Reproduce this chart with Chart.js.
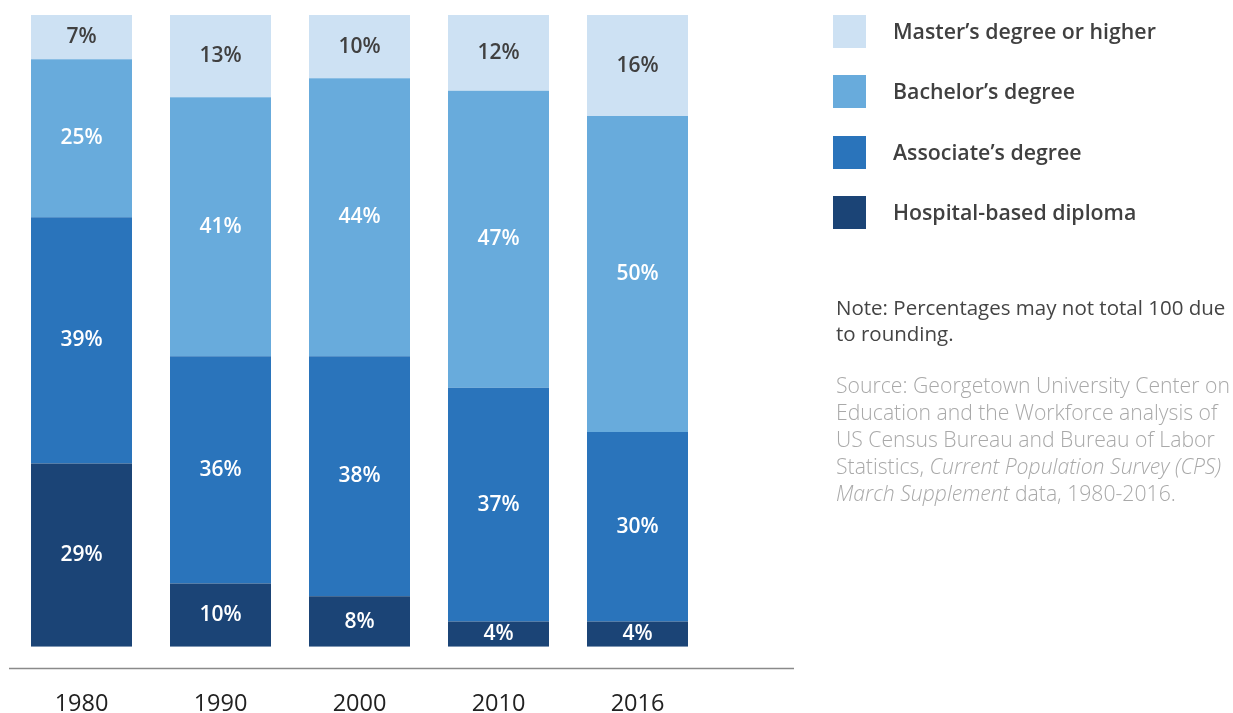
<!DOCTYPE html>
<html>
<head>
<meta charset="utf-8">
<script src="https://cdn.jsdelivr.net/npm/chart.js@4.4.0/dist/chart.umd.min.js"></script>
<style>
  html, body { margin: 0; padding: 0; background: #fff; }
  body { width: 1233px; height: 713px; position: relative; overflow: hidden; font-family: "Open Sans", sans-serif; }
  #c { position: absolute; left: 0; top: 0; }
  #legend { position: absolute; left: 833px; top: 15px; }
  .li { position: absolute; left: 0; height: 33px; width: 400px; }
  .sw { position: absolute; left: 0; top: 0; width: 33px; height: 33px; }
  .lt { position: absolute; left: 60px; top: -1px; line-height: 33px; font-size: 21.3px; font-weight: 600; color: #404040; white-space: nowrap; }
  #note { position: absolute; left: 836px; top: 294px; width: 420px; font-size: 20.5px; line-height: 26px; color: #444; white-space: nowrap; }
  #source { position: absolute; left: 836px; top: 371px; width: 420px; font-size: 21.2px; line-height: 27px; color: #a9a9a9; font-weight: 300; white-space: nowrap; }
</style>
</head>
<body>
<canvas id="c" width="1233" height="713"></canvas>
<div id="legend"></div>
<div id="note">Note: Percentages may not total 100 due<br>to rounding.</div>
<div id="source">Source: Georgetown University Center on<br>Education and the Workforce analysis of<br>US Census Bureau and Bureau of Labor<br>Statistics, <i>Current Population Survey (CPS)</i><br><i>March Supplement</i> data, 1980-2016.</div>
<script>
const categories = ["1980", "1990", "2000", "2010", "2016"];
const seriesNames = ["Hospital-based diploma", "Associate\u2019s degree", "Bachelor\u2019s degree", "Master\u2019s degree or higher"];
const hospital = [29, 10, 8, 4, 4];
const associate = [39, 36, 38, 37, 30];
const bachelor = [25, 41, 44, 47, 50];
const master = [7, 13, 10, 12, 16];
const seriesColors = ["#1b4476", "#2a74bb", "#68abdc", "#cde1f3"];
const labelColors = ["#ffffff", "#ffffff", "#ffffff", "#404040"];

const seriesValues = [hospital, associate, bachelor, master];

// HTML legend (top = master's)
const legend = document.getElementById('legend');
for (let i = seriesNames.length - 1, row = 0; i >= 0; i--, row++) {
  const li = document.createElement('div');
  li.className = 'li';
  li.style.top = (row * 60.3) + 'px';
  const sw = document.createElement('div');
  sw.className = 'sw';
  sw.style.background = seriesColors[i];
  const lt = document.createElement('div');
  lt.className = 'lt';
  lt.textContent = seriesNames[i];
  li.appendChild(sw); li.appendChild(lt);
  legend.appendChild(li);
}

const valueLabels = {
  id: 'valueLabels',
  afterDatasetsDraw(chart) {
    const ctx = chart.ctx;
    ctx.save();
    ctx.font = '600 21px "Open Sans"';
    ctx.textAlign = 'center';
    ctx.textBaseline = 'middle';
    chart.data.datasets.forEach((ds, di) => {
      const meta = chart.getDatasetMeta(di);
      meta.data.forEach((bar, i) => {
        const cy = (bar.y + bar.base) / 2;
        ctx.fillStyle = labelColors[di];
        ctx.fillText(ds.data[i] + '%', bar.x, cy);
      });
    });
    ctx.restore();
  }
};

const baseline = {
  id: 'baseline',
  afterDraw(chart) {
    const ctx = chart.ctx;
    const y = Math.round(chart.chartArea.bottom + 21) + 0.5;
    ctx.save();
    ctx.strokeStyle = '#8a8a8a';
    ctx.lineWidth = 1.5;
    ctx.beginPath();
    ctx.moveTo(9, y);
    ctx.lineTo(794, y);
    ctx.stroke();
    ctx.restore();
  }
};

new Chart(document.getElementById('c'), {
  type: 'bar',
  data: {
    labels: categories,
    datasets: seriesValues.map((vals, i) => ({
      label: seriesNames[i],
      data: vals,
      backgroundColor: seriesColors[i],
      borderWidth: 0,
      categoryPercentage: 101 / 139,
      barPercentage: 1
    }))
  },
  options: {
    responsive: false,
    animation: false,
    devicePixelRatio: 1,
    layout: { padding: { left: 12, right: 526, top: 15, bottom: -48 } },
    plugins: { legend: { display: false }, tooltip: { enabled: false } },
    scales: {
      x: {
        stacked: true,
        grid: { display: false, drawTicks: false },
        border: { display: false },
        ticks: { color: '#222', padding: 43, font: { family: 'Open Sans', size: 23.5 } }
      },
      y: {
        stacked: true,
        display: false,
        min: 0,
        max: 100
      }
    }
  },
  plugins: [valueLabels, baseline]
});
</script>
</body>
</html>
